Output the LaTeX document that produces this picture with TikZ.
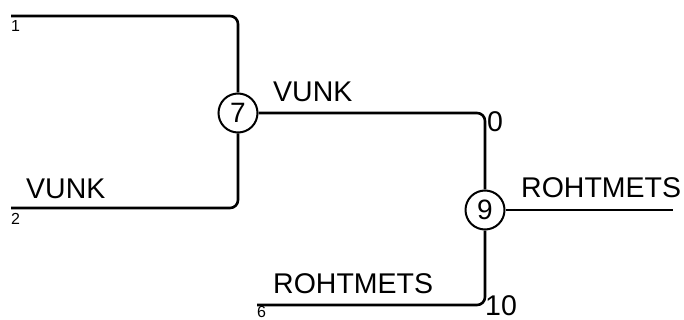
\documentclass[tikz,border=0pt]{standalone}
\usepackage{fontspec}
\setmainfont{Liberation Sans}
\begin{document}
\begin{tikzpicture}[x=1pt,y=-1pt,
  junction/.style={circle,draw,line width=2pt,minimum size=39pt,inner sep=0pt,font=\fontsize{28}{30}\selectfont},
  edge/.style={line width=2.6pt,rounded corners=8pt},
  biglabel/.style={anchor=base west,inner sep=0pt,font=\fontsize{28.5}{30}\selectfont},
  smalllabel/.style={anchor=base west,inner sep=0pt,font=\fontsize{16}{17}\selectfont}]
\useasboundingbox (0,0) rectangle (684,320);
\node[junction] (n7) at (238,113) {7};
\node[junction] (n9) at (485,210) {9};
\coordinate (l1) at (11,16);
\coordinate (l2) at (11,208);
\coordinate (l6) at (257,305);
\coordinate (out) at (673,210);
\draw[edge] (l1) -| (n7.north);
\draw[edge] (l2) -| (n7.south);
\draw[edge] (n7.east) -| (n9.north);
\draw[edge] (l6) -| (n9.south);
\draw[edge] (n9.east) -- (out);
\node[smalllabel] (t1) at (11,32) {1};
\node[smalllabel] (t2) at (11,224) {2};
\node[smalllabel] (t6) at (257,317) {6};
\node[biglabel] (v1) at (273,102) {VUNK};
\node[biglabel] (v2) at (26,198) {VUNK};
\node[biglabel] (z0) at (487,132) {0};
\node[biglabel] (r1) at (273,293) {ROHTMETS};
\node[biglabel] (r2) at (521,197) {ROHTMETS};
\node[biglabel] (z10) at (485,315) {10};
\end{tikzpicture}
\end{document}
